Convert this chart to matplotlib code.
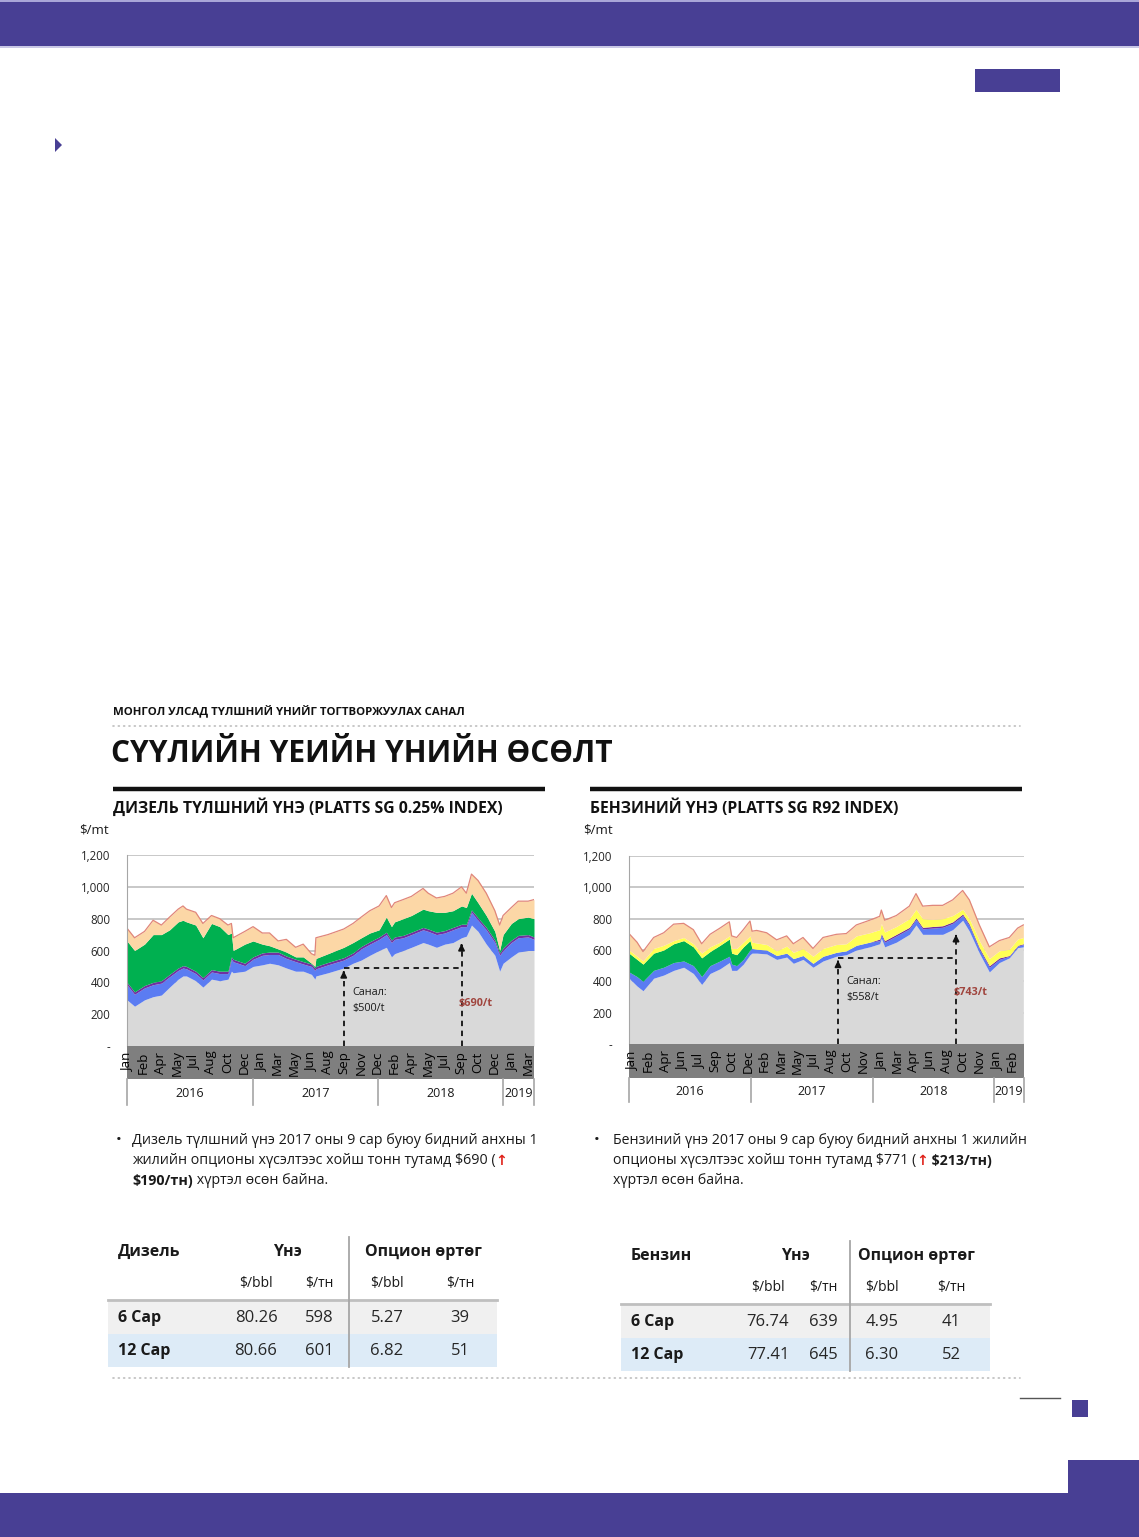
import matplotlib
matplotlib.use("Agg")
import matplotlib.pyplot as plt
import matplotlib.dates as mdates
import numpy as np
import pandas as pd
from matplotlib.patches import Rectangle, Polygon

plt.rcParams["font.family"] = ["Open Sans", "DejaVu Sans"]

W, H = 1139, 1537
PURPLE = "#483f94"
TXT = "#1a1a1a"

# ---------------- data: diesel (Platts SG 0.25%) ----------------
diesel_dates = [
    "2016-01-01", "2016-01-23", "2016-02-21", "2016-03-17", "2016-04-10", "2016-05-04",
    "2016-05-29", "2016-06-12", "2016-06-22", "2016-07-19", "2016-08-09", "2016-09-03",
    "2016-09-27", "2016-10-21", "2016-10-31", "2016-11-05", "2016-12-09", "2017-01-02",
    "2017-01-29", "2017-02-19", "2017-03-16", "2017-04-09", "2017-05-06", "2017-05-28",
    "2017-06-21", "2017-07-01", "2017-07-04", "2017-08-08", "2017-09-23", "2017-10-20",
    "2017-11-13", "2017-12-08", "2018-01-04", "2018-01-25", "2018-02-09", "2018-02-18",
    "2018-03-15", "2018-04-08", "2018-05-12", "2018-05-27", "2018-06-20", "2018-07-14",
    "2018-08-07", "2018-09-01", "2018-09-15", "2018-09-30", "2018-10-19", "2018-11-12",
    "2018-12-07", "2018-12-21", "2018-12-31", "2019-01-24", "2019-02-13", "2019-03-14",
    "2019-03-31",
]
diesel_grey = [
    290, 250, 290, 310, 320, 370, 420, 440, 440, 410, 370, 420, 410, 420, 470, 460, 470, 500,
    510, 520, 510, 490, 470, 470, 450, 420, 440, 460, 490, 520, 540, 570, 600, 620, 560, 580,
    600, 620, 650, 640, 620, 640, 650, 680, 690, 760, 720, 640, 570, 470, 520, 560, 590, 600,
    600,
]
diesel_blue = [
    385, 325, 365, 385, 395, 435, 475, 490, 485, 455, 415, 465, 455, 455, 545, 530, 505, 545,
    570, 575, 575, 550, 530, 515, 500, 475, 485, 510, 540, 570, 610, 640, 670, 700, 650, 670,
    680, 700, 730, 720, 700, 710, 730, 750, 750, 840, 790, 730, 650, 570, 600, 650, 680, 685,
    670,
]
diesel_purple = [
    400, 340, 380, 400, 410, 450, 490, 505, 500, 470, 430, 480, 470, 470, 560, 545, 520, 560,
    585, 590, 590, 565, 545, 530, 515, 490, 500, 525, 555, 585, 625, 655, 685, 715, 665, 685,
    695, 715, 745, 735, 715, 725, 745, 765, 765, 855, 805, 745, 665, 585, 615, 665, 695, 700,
    685,
]
diesel_green = [
    660, 600, 640, 700, 700, 730, 780, 790, 780, 760, 680, 770, 750, 700, 710, 600, 640, 660,
    640, 630, 610, 590, 560, 560, 520, 500, 550, 580, 620, 650, 680, 710, 730, 810, 750, 780,
    800, 820, 860, 850, 840, 840, 850, 880, 870, 960, 900, 820, 720, 600, 700, 770, 800, 810,
    800,
]
diesel_top = [
    740, 680, 720, 790, 760, 810, 860, 880, 860, 840, 770, 820, 800, 760, 770, 680, 720, 750,
    710, 710, 660, 670, 620, 640, 580, 570, 680, 700, 735, 770, 810, 850, 880, 945, 870, 900,
    920, 940, 990, 960, 930, 940, 960, 1000, 960, 1080, 1040, 960, 850, 760, 820, 870, 910, 910,
    920,
]
diesel_months = ["Jan", "Feb", "Apr", "May", "Jul", "Aug", "Oct", "Dec",
                 "Jan", "Mar", "May", "Jun", "Aug", "Sep", "Nov", "Dec",
                 "Feb", "Apr", "May", "Jul", "Sep", "Oct", "Dec", "Jan", "Mar"]
diesel_month_span = ("2016-01-01", "2019-03-14")
diesel_offer = ("2017-09-23", 490, "Санал:\n$500/t")
diesel_now = ("2018-09-01", 660, "$690/t")

# ---------------- data: gasoline (Platts SG R92) ----------------
gas_dates = [
    "2016-01-01", "2016-01-25", "2016-02-12", "2016-03-15", "2016-04-14", "2016-05-14",
    "2016-06-13", "2016-07-12", "2016-08-06", "2016-08-31", "2016-09-30", "2016-10-28",
    "2016-11-04", "2016-11-19", "2016-12-09", "2016-12-29", "2017-01-04", "2017-01-18",
    "2017-02-17", "2017-03-19", "2017-04-18", "2017-05-08", "2017-06-06", "2017-07-06",
    "2017-08-05", "2017-09-14", "2017-10-14", "2017-11-13", "2017-12-23", "2018-01-22",
    "2018-01-27", "2018-02-06", "2018-03-13", "2018-04-21", "2018-05-11", "2018-05-31",
    "2018-06-30", "2018-07-30", "2018-08-29", "2018-09-28", "2018-10-18", "2018-11-17",
    "2018-12-17", "2019-01-16", "2019-02-15", "2019-03-12", "2019-03-29",
]
gas_grey = [
    420, 370, 340, 420, 440, 470, 490, 450, 380, 450, 480, 520, 470, 470, 510, 570, 580, 580,
    575, 540, 555, 515, 540, 490, 530, 560, 570, 600, 620, 640, 675, 620, 650, 700, 760, 700,
    700, 700, 730, 790, 720, 580, 460, 520, 550, 615, 620,
]
gas_blue = [
    460, 430, 400, 470, 490, 520, 530, 500, 430, 500, 530, 560, 510, 500, 540, 600, 610, 605,
    600, 565, 580, 545, 565, 515, 560, 585, 595, 630, 650, 660, 695, 650, 690, 735, 795, 735,
    740, 745, 770, 820, 755, 605, 490, 540, 560, 625, 635,
]
gas_purple = [
    460, 430, 400, 470, 490, 520, 530, 500, 430, 500, 530, 560, 510, 500, 540, 600, 610, 605,
    600, 565, 580, 545, 565, 515, 560, 585, 595, 630, 650, 670, 705, 660, 700, 745, 805, 745,
    750, 755, 780, 830, 765, 615, 500, 550, 565, 630, 640,
]
gas_green = [
    580, 540, 510, 580, 600, 640, 660, 620, 550, 590, 630, 670, 580, 570, 620, 660, 610, 605,
    600, 565, 580, 545, 565, 515, 560, 585, 595, 630, 650, 670, 705, 660, 700, 745, 805, 745,
    750, 755, 780, 830, 765, 615, 500, 550, 565, 630, 640,
]
gas_yellow = [
    600, 560, 530, 610, 630, 660, 680, 640, 580, 620, 650, 690, 610, 610, 650, 690, 650, 645,
    635, 595, 625, 585, 610, 560, 610, 635, 640, 690, 710, 730, 770, 715, 750, 800, 860, 800,
    795, 800, 820, 860, 800, 660, 545, 595, 605, 670, 680,
]
gas_top = [
    705, 650, 590, 680, 710, 765, 770, 730, 640, 700, 740, 780, 690, 680, 730, 785, 720, 725,
    710, 665, 690, 640, 680, 610, 680, 700, 705, 760, 790, 815, 855, 790, 820, 880, 960, 880,
    885, 885, 920, 980, 920, 760, 620, 660, 680, 740, 760,
]
gas_months = ["Jan", "Feb", "Apr", "Jun", "Jul", "Sep", "Oct", "Dec",
              "Feb", "Mar", "May", "Jul", "Aug", "Oct", "Nov",
              "Jan", "Mar", "Apr", "Jun", "Aug", "Oct", "Nov", "Jan", "Feb"]
gas_month_span = ("2016-01-10", "2019-02-25")
gas_offer = ("2017-09-19", 552, "Санал:\n$558/t")
gas_now = ("2018-09-08", 716, "$743/t")

years = ["2016", "2017", "2018", "2019"]
year_edges = ["2016-01-01", "2017-01-01", "2018-01-01", "2019-01-01", "2019-03-31"]

# ---------------- data: tables ----------------
row_names = ["6 Сар", "12 Сар"]
diesel_bbl = [80.26, 80.66]
diesel_tn = [598, 601]
diesel_opt_bbl = [5.27, 6.82]
diesel_opt_tn = [39, 51]
gas_bbl = [76.74, 77.41]
gas_tn = [639, 645]
gas_opt_bbl = [4.95, 6.30]
gas_opt_tn = [41, 52]

# ---------------- figure / page ----------------
fig = plt.figure(figsize=(W / 100, H / 100), dpi=100)
page = fig.add_axes([0, 0, 1, 1])
page.set_xlim(0, W)
page.set_ylim(H, 0)
page.axis("off")


def box(x0, y0, x1, y1):
    return [x0 / W, 1 - y1 / H, (x1 - x0) / W, (y1 - y0) / H]


def rect(x0, y0, x1, y1, color, z=1):
    page.add_patch(Rectangle((x0, y0), x1 - x0, y1 - y0, color=color, lw=0, zorder=z))


def dotted(y, x0, x1):
    page.plot([x0, x1], [y, y], color="#bdbdbd", lw=1.2, ls=(0, (0.6, 2.6)),
              solid_capstyle="round", dash_capstyle="round")


def rich_line(x, y, parts, size=10.3):
    r = fig.canvas.get_renderer()
    for s, kw in parts:
        t = page.text(x, y, s, fontsize=size, va="center", ha="left", color=kw.pop("color", TXT), **kw)
        x += t.get_window_extent(r).width


# page decorations
rect(0, 0, W, 2, "#a9a6d8")
rect(0, 2, W, 46, PURPLE)
rect(0, 46, W, 48, "#c9c8e6")
rect(975, 69, 1060, 92, PURPLE)
page.add_patch(Polygon([(55, 138), (62, 145), (55, 152)], color=PURPLE, lw=0))
rect(0, 1493, W, H, PURPLE)
rect(1068, 1460, W, H, PURPLE)
rect(1072, 1400, 1088, 1417, PURPLE)
page.plot([1020, 1060], [1398, 1398], color="#555555", lw=1)

# headings
page.text(113, 712, "МОНГОЛ УЛСАД ТҮЛШНИЙ ҮНИЙГ ТОГТВОРЖУУЛАХ САНАЛ", fontsize=8.2,
          fontweight="bold", va="center", ha="left", color="#111111")
dotted(726, 113, 1020)
page.text(111, 754, "СҮҮЛИЙН ҮЕИЙН ҮНИЙН ӨСӨЛТ", fontsize=21.5, fontweight="bold",
          va="center", ha="left", color="#111111")
page.plot([113, 545], [789, 789], color="#111111", lw=3.2, solid_capstyle="butt")
page.plot([590, 1022], [789, 789], color="#111111", lw=3.2, solid_capstyle="butt")
page.text(113, 808, "ДИЗЕЛЬ ТҮЛШНИЙ ҮНЭ (PLATTS SG 0.25% INDEX)", fontsize=11.3,
          fontweight="bold", va="center", ha="left", color="#111111")
page.text(590, 808, "БЕНЗИНИЙ ҮНЭ (PLATTS SG R92 INDEX)", fontsize=11.3,
          fontweight="bold", va="center", ha="left", color="#111111")


def draw_chart(plot_box, band_bottom, year_bottom, dates, layers, colors, top_line,
               months, month_span, offer, now, unit_xy):
    x0, y0, x1, y1 = plot_box
    d = pd.to_datetime(dates)
    start, end = mdates.date2num(pd.to_datetime(year_edges[0])), mdates.date2num(pd.to_datetime(year_edges[-1]))

    ax = fig.add_axes(box(x0, y0, x1, y1))
    ax.set_xlim(start, end)
    ax.set_ylim(0, 1200)
    lower = np.zeros(len(d))
    for upper, c in zip(layers, colors):
        ax.fill_between(d, lower, upper, color=c, lw=0)
        lower = np.asarray(upper, dtype=float)
    ax.plot(d, top_line, color="#e0867a", lw=0.9)
    ax.set_yticks(range(0, 1201, 200))
    ax.set_yticklabels(["-"] + [f"{v:,}" for v in range(200, 1201, 200)], fontsize=8.3, color="#262626")
    ax.tick_params(axis="y", length=0, pad=12)
    ax.set_xticks([])
    ax.grid(axis="y", color="#c4c4c4", lw=1.3)
    ax.set_axisbelow(True)
    for s in ["top", "right", "bottom"]:
        ax.spines[s].set_visible(False)
    ax.spines["left"].set_color("#a6a6a6")
    ax.set_facecolor("none")

    # dashed arrows: offer level -> current level
    (od, oy, otxt), (nd, ny, ntxt) = offer, now
    od, nd = pd.to_datetime(od), pd.to_datetime(nd)
    ax.plot([od, od], [0, oy - 25], color="#111111", lw=1.3, ls=(0, (3, 2.5)))
    ax.plot([od, nd], [oy, oy], color="#111111", lw=1.3, ls=(0, (3, 2.5)))
    ax.plot([nd, nd], [0, ny - 25], color="#111111", lw=1.3, ls=(0, (3, 2.5)))
    for dd, yy in [(od, oy), (nd, ny)]:
        ax.annotate("", xy=(dd, yy), xytext=(dd, yy - 45),
                    arrowprops=dict(arrowstyle="-|>", color="#111111", lw=1.3, mutation_scale=9))
    ax.annotate(otxt, xy=(od, oy - 205), xytext=(6, 0), textcoords="offset points",
                fontsize=7.8, va="center", ha="left", color="#1a1a1a", linespacing=1.6)
    ax.annotate(ntxt, xy=(nd, oy - 225), xytext=(-2, 0), textcoords="offset points",
                fontsize=7.8, va="center", ha="left", color="#a0453e", fontweight="bold")

    # month band
    band = fig.add_axes(box(x0, y1, x1, band_bottom))
    band.set_xlim(start, end)
    band.set_ylim(0, 1)
    band.axis("off")
    band.add_patch(Rectangle((start, 0), end - start, 1, color="#7f7f7f", lw=0))
    tpos = np.linspace(mdates.date2num(pd.to_datetime(month_span[0])),
                       mdates.date2num(pd.to_datetime(month_span[1])), len(months))
    for p, m in zip(tpos, months):
        band.text(p, 0.5, m, rotation=90, fontsize=9.5, va="center", ha="center", color="#000000")

    # year row
    yr = fig.add_axes(box(x0, band_bottom, x1, year_bottom))
    yr.set_xlim(start, end)
    yr.set_ylim(0, 1)
    yr.axis("off")
    edges = [mdates.date2num(pd.to_datetime(e)) for e in year_edges]
    for e in edges:
        yr.plot([e, e], [0.05, 1], color="#a6a6a6", lw=1.2, clip_on=False)
    for a, b, lab in zip(edges[:-1], edges[1:], years):
        yr.text((a + b) / 2, 0.45, lab, fontsize=9, ha="center", va="center", color="#1a1a1a")

    page.text(unit_xy[0], unit_xy[1], "$/mt", fontsize=9.5, va="center", ha="left", color="#1a1a1a")


draw_chart((127, 855, 534, 1046), 1079, 1106, diesel_dates,
           [diesel_grey, diesel_blue, diesel_purple, diesel_green, diesel_top],
           ["#d9d9d9", "#5b7cf2", "#7030a0", "#00b050", "#fcd7a6"], diesel_top,
           diesel_months, diesel_month_span, diesel_offer, diesel_now, (79, 830))
draw_chart((629, 856, 1024, 1044), 1078, 1103, gas_dates,
           [gas_grey, gas_blue, gas_purple, gas_green, gas_yellow, gas_top],
           ["#d9d9d9", "#5b7cf2", "#7030a0", "#00b050", "#ffff55", "#fcd7a6"], gas_top,
           gas_months, gas_month_span, gas_offer, gas_now, (583, 830))

# bullet texts
RED = {"color": "#e0231b", "family": ["DejaVu Sans"], "fontweight": "bold"}
page.text(116, 1140, "•", fontsize=11, va="center", ha="left", color=TXT)
rich_line(132, 1140, [("Дизель түлшний үнэ 2017 оны 9 сар буюу бидний анхны 1", {})])
rich_line(132, 1161, [("жилийн опционы хүсэлтээс хойш тонн тутамд $690 (", {}), ("↑", dict(RED))])
rich_line(132, 1181, [("$190/тн)", {"fontweight": "bold"}), (" хүртэл өсөн байна.", {})])

page.text(594, 1140, "•", fontsize=11, va="center", ha="left", color=TXT)
rich_line(613, 1140, [("Бензиний үнэ 2017 оны 9 сар буюу бидний анхны 1 жилийн", {})], size=10.15)
rich_line(613, 1161, [("опционы хүсэлтээс хойш тонн тутамд $771 (", {}), ("↑", dict(RED)),
                      (" $213/тн)", {"fontweight": "bold"})], size=10.15)
rich_line(613, 1181, [("хүртэл өсөн байна.", {})], size=10.15)


# tables
def draw_table(x0, x1, y_top, name, cols, vline_x, bbl, tn, obbl, otn):
    yh, ys, yl = y_top + 15, y_top + 46, y_top + 63
    page.text(x0 + 10, yh, name, fontsize=11.5, fontweight="bold", va="center", ha="left", color=TXT)
    page.text((cols[0] + cols[1]) / 2, yh, "Үнэ", fontsize=11.5, fontweight="bold", va="center",
              ha="center", color=TXT)
    page.text((cols[2] + cols[3]) / 2, yh, "Опцион өртөг", fontsize=11.5, fontweight="bold",
              va="center", ha="center", color=TXT)
    for c, lab in zip(cols, ["$/bbl", "$/тн", "$/bbl", "$/тн"]):
        page.text(c, ys, lab, fontsize=10, va="center", ha="center", color=TXT)
    rect(x0, yl + 1, x1, yl + 34, "#f0f0f0")
    rect(x0, yl + 34, x1, yl + 67, "#ddebf7")
    page.plot([x0, x1], [yl, yl], color="#bfbfbf", lw=2)
    page.plot([vline_x, vline_x], [y_top, yl + 67], color="#a6a6a6", lw=1.3)
    for i, nm in enumerate(row_names):
        yy = yl + 18 + 33 * i
        page.text(x0 + 10, yy, nm, fontsize=11.5, fontweight="bold", va="center", ha="left", color=TXT)
        vals = [f"{bbl[i]:.2f}", f"{tn[i]}", f"{obbl[i]:.2f}", f"{otn[i]}"]
        for c, v in zip(cols, vals):
            page.text(c, yy, v, fontsize=12, va="center", ha="center", color="#262626")


draw_table(108, 497, 1237, "Дизель", [256, 319, 387, 460], 349,
           diesel_bbl, diesel_tn, diesel_opt_bbl, diesel_opt_tn)
draw_table(621, 990, 1241, "Бензин", [768, 823, 882, 951], 850,
           gas_bbl, gas_tn, gas_opt_bbl, gas_opt_tn)

dotted(1378, 113, 1020)

fig.savefig("out.png", dpi=100)
